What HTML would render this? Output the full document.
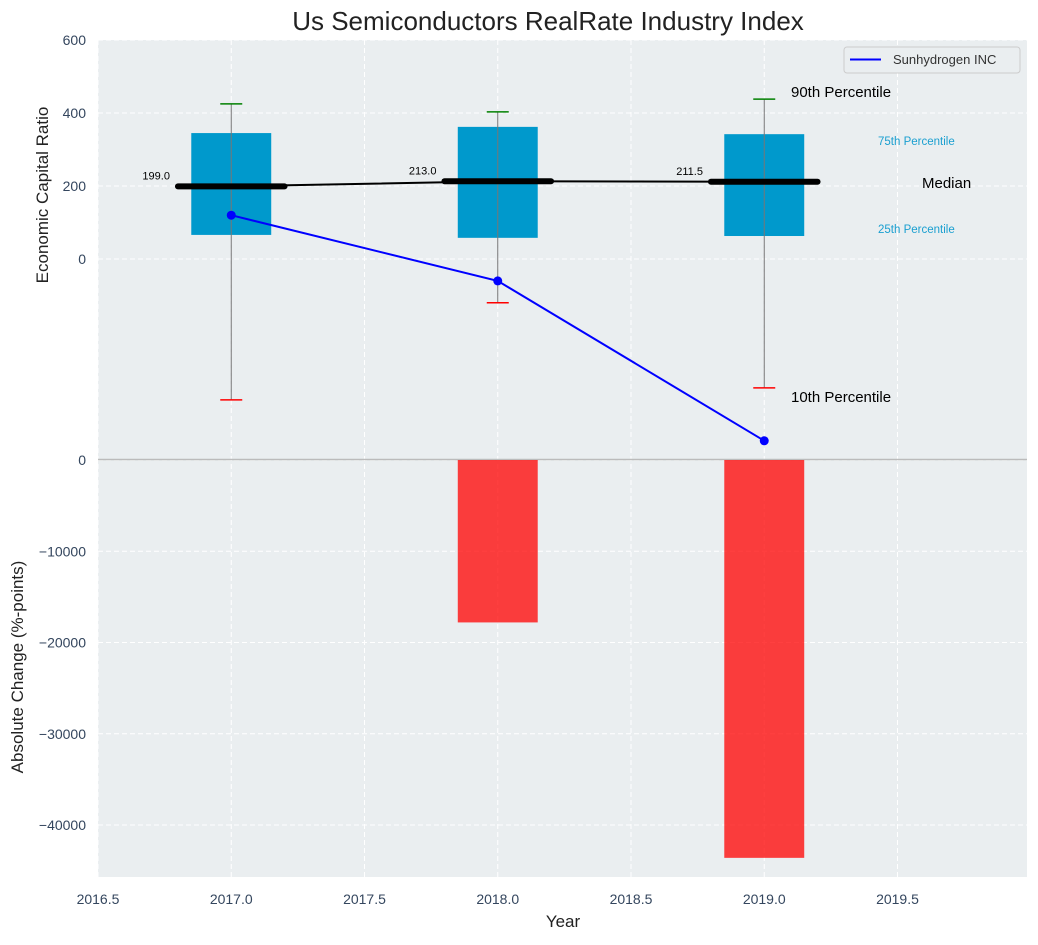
<!DOCTYPE html>
<html><head><meta charset="utf-8"><style>
body{margin:0;background:#fff;font-family:"Liberation Sans",sans-serif}
svg text{font-family:"Liberation Sans",sans-serif}
</style></head><body>
<svg id="chart" width="1038" height="940" xmlns="http://www.w3.org/2000/svg"></svg>
<script>
const years=[2017,2018,2019];
const p10=[-386,-120,-353];
const p25=[66,58,63];
const med=[199.0,213.0,211.5];
const p75=[345,362,342];
const p90=[425,403,438];
const company=[120,-60,-498];
const changes=[0,-17800,-43600];
const xTicks=[2016.5,2017.0,2017.5,2018.0,2018.5,2019.0,2019.5];
const yTopTicks=[0,200,400,600];
const yBotTicks=[0,-10000,-20000,-30000,-40000];

const L=98,R=1027;
const X=v=>L+(v-2016.5)*(266.5);
const T0=40,T1=460;
const Yt=v=>259-v*0.365;
const B0=460,B1=877;
const Yb=v=>460+(-v)*0.009125;
const svg=document.getElementById('chart');
const NS='http://www.w3.org/2000/svg';
function el(tag,attrs,parent){const e=document.createElementNS(NS,tag);for(const k in attrs)e.setAttribute(k,attrs[k]);(parent||svg).appendChild(e);return e;}
function txt(s,attrs){const t=el('text',attrs);t.textContent=s;return t;}

let bg=el('rect',{x:L,y:T0,width:R-L,height:T1-T0,fill:'#eaeef0'});


let bg2=el('rect',{x:L,y:B0,width:R-L,height:B1-B0,fill:'#eaeef0'});



xTicks.forEach(v=>{
  let g=el('line',{x1:X(v),x2:X(v),y1:T0,y2:B1,stroke:'#fff','stroke-dasharray':'5,3','stroke-width':1});
  
  
  let t=txt(v.toFixed(1),{x:X(v),y:904,'text-anchor':'middle','font-size':14,fill:'#34465e'});
  
  
});
yTopTicks.forEach(v=>{
  let g=el('line',{x1:L,x2:R,y1:Yt(v),y2:Yt(v),stroke:'#fff','stroke-dasharray':'5,3'});
  
  
  let t=txt(String(v),{x:86,y:Yt(v)+5,'text-anchor':'end','font-size':14,fill:'#34465e'});
  
  
});
yBotTicks.forEach(v=>{
  let g=el('line',{x1:L,x2:R,y1:Yb(v),y2:Yb(v),stroke:'#fff','stroke-dasharray':'5,3'});
  
  
  let t=txt(String(v).replace('-','\u2212'),{x:86,y:Yb(v)+5,'text-anchor':'end','font-size':14,fill:'#34465e'});
  
  
});
let zl=el('line',{x1:L,x2:R,y1:459.5,y2:459.5,stroke:'#bbbbbb','stroke-width':1.5});



years.forEach((y,i)=>{
  if(changes[i]===0)return;
  let b=el('rect',{x:X(y-0.15),y:Yb(0),width:X(y+0.15)-X(y-0.15),height:Yb(changes[i])-Yb(0),fill:'rgba(255,0,0,0.75)'});
  
  
});

years.forEach((y,i)=>{
  let b=el('rect',{x:X(y-0.15),y:Yt(p75[i]),width:X(y+0.15)-X(y-0.15),height:Yt(p25[i])-Yt(p75[i]),fill:'#0099cc'});
  
  
  let w=el('line',{x1:X(y),x2:X(y),y1:Yt(p90[i]),y2:Yt(p10[i]),stroke:'#777','stroke-width':1});
  
  
  let c1=el('line',{x1:X(y)-11,x2:X(y)+11,y1:Yt(p90[i]),y2:Yt(p90[i]),stroke:'green','stroke-width':1.5});
  
  
  let c2=el('line',{x1:X(y)-11,x2:X(y)+11,y1:Yt(p10[i]),y2:Yt(p10[i]),stroke:'red','stroke-width':1.5});
  
  
});
let mp=el('polyline',{points:years.map((y,i)=>X(y)+','+Yt(med[i])).join(' '),fill:'none',stroke:'#000','stroke-width':2});


years.forEach((y,i)=>{
  let m=el('line',{x1:X(y-0.2),x2:X(y+0.2),y1:Yt(med[i]),y2:Yt(med[i]),stroke:'#000','stroke-width':6,'stroke-linecap':'round'});
  
  
  let t=txt(med[i].toFixed(1),{x:X(y-0.23),y:Yt(med[i])-7,'text-anchor':'end','font-size':11,fill:'#000'});
  
  
});
let cl=el('polyline',{points:years.map((y,i)=>X(y)+','+Yt(company[i])).join(' '),fill:'none',stroke:'#0000ff','stroke-width':2});


years.forEach((y,i)=>{
  let c=el('circle',{cx:X(y),cy:Yt(company[i]),r:4.5,fill:'#0000ff'});
  
  
});

const ann=[['90th Percentile',791,97,15,'#000'],['10th Percentile',791,402,15,'#000'],['Median',922,188,15,'#000'],['75th Percentile',878,145,11.5,'#1a9fd0'],['25th Percentile',878,233,11.5,'#1a9fd0']];
ann.forEach(a=>{
  let t=txt(a[0],{x:a[1],y:a[2],'font-size':a[3],fill:a[4]});
  
  
});

let lg=el('rect',{x:844,y:47,width:176,height:26,rx:3,fill:'#eaeef0',stroke:'#ccc'});


let ll=el('line',{x1:850,x2:881,y1:59.5,y2:59.5,stroke:'#0000ff','stroke-width':2});


let lt=txt('Sunhydrogen INC',{x:893,y:64,'font-size':13,fill:'#333'});



let ti=txt('Us Semiconductors RealRate Industry Index',{x:548,y:30,'text-anchor':'middle','font-size':26,fill:'#222'});


let xt=txt('Year',{x:563,y:927,'text-anchor':'middle','font-size':17,fill:'#222'});


let y1=txt('Economic Capital Ratio',{x:0,y:0,'text-anchor':'middle','font-size':17,fill:'#222',transform:'translate(48,195) rotate(-90)'});


let y2=txt('Absolute Change (%-points)',{x:0,y:0,'text-anchor':'middle','font-size':17,fill:'#222',transform:'translate(23,667) rotate(-90)'});


</script>
</body></html>
